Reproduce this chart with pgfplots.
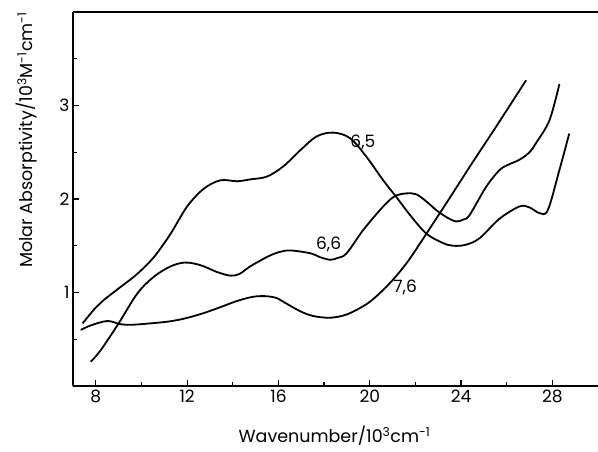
\documentclass[border=0pt]{standalone}
\usepackage{pgfplots}
\pgfplotsset{compat=1.18}
\usepackage{fontspec}
\setmainfont{Poppins}
\usetikzlibrary{calc}

\begin{document}
\begin{tikzpicture}
\begin{axis}[
  name=ax,
  scale only axis,
  width=525pt, height=374pt,
  xmin=7, xmax=30, ymin=0, ymax=4,
  clip=false,
  axis x line=bottom, axis y line=left,
  axis line style={-, line width=1.6pt},
  tick align=inside,
  xtick={8,12,...,28}, minor xtick={10,14,...,26},
  ytick={1,2,3}, minor ytick={0.5,1.5,2.5,3.5},
  major tick length=6pt, minor tick length=4pt,
  every tick/.style={line width=1.2pt, black},
  tick label style={font=\fontsize{17}{20}\selectfont},
  /pgf/number format/assume math mode=true,
  xlabel={Wavenumber/10\textsuperscript{3}cm\textsuperscript{-1}},
  ylabel={Molar Absorptivity/10\textsuperscript{3}M\textsuperscript{-1}cm\textsuperscript{-1}},
  label style={font=\fontsize{17.5}{20}\selectfont},
  xlabel style={at={(axis description cs:0.498,-0.152)}, anchor=base},
  ylabel style={at={(axis description cs:-0.088,0.658)}, anchor=center},
  curve/.style={black, line width=1.8pt, smooth, tension=0.55, mark=none},
]
% complex 6,5
\addplot[curve] coordinates {
(7.42,0.67) (8.0,0.84) (8.35,0.92) (9.09,1.06) (9.82,1.2) (10.55,1.38)
(11.28,1.63) (12.0,1.92) (12.73,2.11) (13.46,2.2) (14.19,2.19) (14.77,2.21)
(15.5,2.24) (16.22,2.35) (16.95,2.52) (17.68,2.67) (18.41,2.71) (19.14,2.65)
(19.86,2.45) (20.59,2.2) (21.17,2.02) (21.76,1.83) (22.48,1.63) (23.2,1.53)
(23.65,1.50) (24.2,1.51) (24.81,1.58) (25.69,1.79) (26.56,1.92) (27.0,1.91)
(27.43,1.85) (27.8,1.88) (28.31,2.31) (28.74,2.7)
};
% complex 6,6
\addplot[curve] coordinates {
(7.78,0.26) (8.22,0.385) (9.0,0.67) (9.82,0.99) (10.55,1.17) (11.28,1.28)
(11.86,1.32) (12.3,1.31) (12.73,1.28) (13.3,1.22) (13.9,1.18) (14.3,1.2)
(14.77,1.28) (15.5,1.38) (16.0,1.43) (16.51,1.45) (17.39,1.42) (17.8,1.38)
(18.26,1.35) (18.6,1.37) (18.99,1.42) (19.72,1.67) (20.59,1.92) (21.1,2.03)
(21.6,2.06) (22.04,2.05) (22.5,1.97) (22.92,1.88) (23.4,1.8) (23.79,1.76)
(24.1,1.78) (24.38,1.83) (25.1,2.13) (25.69,2.31) (26.1,2.37) (26.56,2.42)
(27.0,2.5) (27.29,2.6) (27.87,2.84) (28.31,3.23)
};
% complex 7,6
\addplot[curve] coordinates {
(7.34,0.6) (7.8,0.65) (8.51,0.695) (9.09,0.66) (9.6,0.655) (10.4,0.67)
(11.2,0.69) (11.86,0.72) (12.6,0.77) (13.31,0.83) (14.2,0.91) (14.91,0.955)
(15.5,0.96) (15.93,0.94) (16.22,0.9) (16.95,0.8) (17.5,0.75) (18.12,0.73)
(18.6,0.74) (19.14,0.78) (20.0,0.9) (20.88,1.1) (21.6,1.31) (22.19,1.52)
(23.5,2.01) (24.5,2.39) (25.5,2.76) (26.85,3.27)
};
\node[font=\fontsize{17}{20}\selectfont] at (axis cs:19.7,2.6) {6,5};
\node[font=\fontsize{17}{20}\selectfont] at (axis cs:18.2,1.51) {6,6};
\node[font=\fontsize{17}{20}\selectfont] at (axis cs:21.55,1.05) {7,6};
% top edge of the frame
\draw[black, line width=2pt] (axis cs:7,4) -- (axis cs:30,4);
\end{axis}
\pgfresetboundingbox
\path ($(ax.south west)+(-73pt,-66pt)$) rectangle ++(598pt,452pt);
\end{tikzpicture}
\end{document}
